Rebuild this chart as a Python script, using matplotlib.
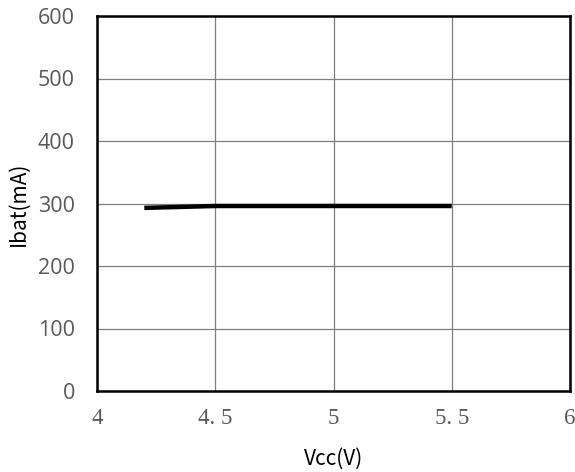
import matplotlib
matplotlib.use("Agg")
import matplotlib.pyplot as plt

vcc = [4.2, 4.5, 5.0, 5.5]
ibat = [293, 296, 296, 296]
xticks = [4, 4.5, 5, 5.5, 6]
xticklabels = ["4", "4. 5", "5", "5. 5", "6"]
yticks = [0, 100, 200, 300, 400, 500, 600]

fig = plt.figure(figsize=(5.75, 4.72), dpi=100)
ax = fig.add_axes([97/575, 1-391/472, (570-97)/575, (391-16)/472])
ax.plot(vcc, ibat, color="black", lw=3.2, solid_capstyle="butt")
ax.set_xlim(4, 6)
ax.set_ylim(0, 600)
ax.set_xticks(xticks)
ax.set_xticklabels(xticklabels, family="Liberation Serif", fontsize=16.5, color="#595959")
ax.set_yticks(yticks)
ax.set_yticklabels([str(v) for v in yticks], family="Open Sans", fontsize=15.5, color="#595959")
ax.tick_params(length=0)
ax.tick_params(axis="y", pad=16)
ax.tick_params(axis="x", pad=12)
ax.grid(True, color="#7f7f7f", lw=0.9)
ax.set_axisbelow(True)
for s in ax.spines.values():
    s.set_linewidth(1.8)
    s.set_color("black")
ax.set_xlabel("Vcc(V)", family="Noto Sans CJK SC", fontsize=15, labelpad=14)
ax.set_ylabel("Ibat(mA)", family="Noto Sans CJK SC", fontsize=15, labelpad=6)
fig.savefig("out.png", dpi=100)
